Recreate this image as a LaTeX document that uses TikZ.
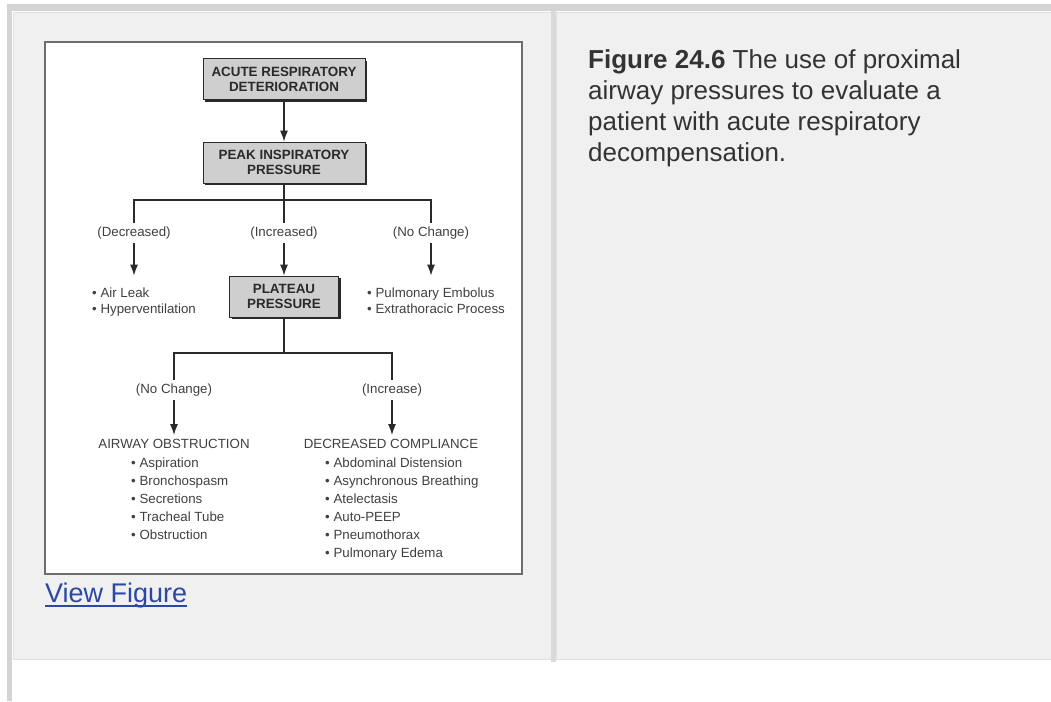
\documentclass[tikz,border=0pt]{standalone}
\usepackage{fontspec}
\setmainfont{Liberation Sans}
\usepackage{tikz}
\usetikzlibrary{positioning,arrows.meta,shadows}
\definecolor{pagebar}{HTML}{D4D4D4}
\definecolor{panelbg}{HTML}{F0F0F0}
\definecolor{panelrule}{HTML}{E0E0E0}
\definecolor{divider}{HTML}{DADADA}
\definecolor{frame}{HTML}{6E6E6E}
\definecolor{captiongray}{HTML}{333333}
\definecolor{linkblue}{HTML}{2A48A4}
\definecolor{inkgray}{HTML}{2A2A2A}
\tikzset{
  flowarrow/.style={-{Latex[length=11pt, width=8pt]}, line width=1.4pt, inkgray},
  treeline/.style={line width=1.4pt, inkgray},
  headbox/.style={draw=inkgray, line width=0.7pt, fill=gray!38, minimum width=162pt, minimum height=41pt, align=center,
    font=\fontsize{13.4}{15}\selectfont\bfseries, text=inkgray,
    drop shadow={shadow xshift=2.2pt, shadow yshift=-2.2pt, fill=inkgray, opacity=1}},
  branchlabel/.style={font=\fontsize{13.3}{15}\selectfont, text=black!75, inner sep=4pt},
  itemlist/.style={font=\fontsize{13.3}{16}\selectfont, text=black!75, align=left, inner sep=0pt, anchor=north west},
  grouphead/.style={font=\fontsize{13.3}{15}\selectfont, text=black!75, inner sep=4pt}
}

\begin{document}
\begin{tikzpicture}[x=1pt, y=-1pt, >=Latex]
  \useasboundingbox (0,0) rectangle (1051,701);
  \fill[white] (0,0) rectangle (1051,701);

  % page chrome
  \fill[pagebar] (7,4) rectangle (1051,11);
  \fill[pagebar] (7,4) rectangle (12,701);
  \filldraw[fill=panelbg, draw=panelrule, line width=1pt] (13.5,12.5) rectangle (551,659);
  \filldraw[fill=panelbg, draw=panelrule, line width=1pt] (556,12.5) rectangle (1052,659);
  \fill[divider] (551,11) rectangle (556,662);
  \filldraw[fill=white, draw=frame, line width=2pt] (45,42) rectangle (522,574);

  % caption and link
  \node[anchor=north west, align=left, inner sep=0pt, text=captiongray,
        font=\fontsize{26}{31}\selectfont] (caption) at (588,49.5)
    {\textbf{Figure 24.6} The use of proximal\\airway pressures to evaluate a\\patient with acute respiratory\\decompensation.};
  \node[anchor=base west, inner sep=0pt, text=linkblue, font=\fontsize{27}{30}\selectfont] (viewfig) at (45,602)
    {View Figure};
  \draw[linkblue, line width=2pt] ([yshift=-4pt]viewfig.base west) -- ([yshift=-4pt]viewfig.base east);

  % flow chart
  \node[headbox] (acute) at (284,79) {ACUTE RESPIRATORY\\DETERIORATION};
  \node[headbox] (peak) at (284,162.5) {PEAK INSPIRATORY\\PRESSURE};
  \node[headbox, minimum width=109pt] (plateau) at (284,296.5) {PLATEAU\\PRESSURE};

  \node[branchlabel] (dec) at (134,233) {(Decreased)};
  \node[branchlabel] (inc) at (284,233) {(Increased)};
  \node[branchlabel] (noch) at (431,233) {(No Change)};

  \node[itemlist] (leak) at (92,287.5) {• Air Leak\\• Hyperventilation};
  \node[itemlist] (embol) at (367,287.5) {• Pulmonary Embolus\\• Extrathoracic Process};

  \node[branchlabel] (noch2) at (174,390) {(No Change)};
  \node[branchlabel] (inc2) at (392,390) {(Increase)};

  \node[grouphead] (obstr) at (174,444) {AIRWAY OBSTRUCTION};
  \node[grouphead] (compl) at (391,444) {DECREASED COMPLIANCE};
  \node[itemlist, font=\fontsize{13.3}{18}\selectfont] (obstrlist) at (131,457.5)
    {• Aspiration\\• Bronchospasm\\• Secretions\\• Tracheal Tube\\• Obstruction};
  \node[itemlist, font=\fontsize{13.3}{18}\selectfont] (compllist) at (325,457.5)
    {• Abdominal Distension\\• Asynchronous Breathing\\• Atelectasis\\• Auto-PEEP\\• Pneumothorax\\• Pulmonary Edema};

  \coordinate (split1) at (284,200);
  \coordinate (split2) at (284,353);

  \draw[flowarrow] (acute) -- (peak);
  \draw[treeline] (peak) -- (split1);
  \draw[treeline] (dec.north) |- (split1) -| (noch.north);
  \draw[treeline] (split1) -- (inc.north);
  \draw[flowarrow] (dec) -- (dec |- plateau.north);
  \draw[flowarrow] (inc) -- (plateau);
  \draw[flowarrow] (noch) -- (noch |- plateau.north);

  \draw[treeline] (plateau) -- (split2);
  \draw[treeline] (noch2.north) |- (split2) -| (inc2.north);
  \draw[flowarrow] (noch2) -- (obstr);
  \draw[flowarrow] (inc2) -- (inc2 |- compl.north);
\end{tikzpicture}
\end{document}
